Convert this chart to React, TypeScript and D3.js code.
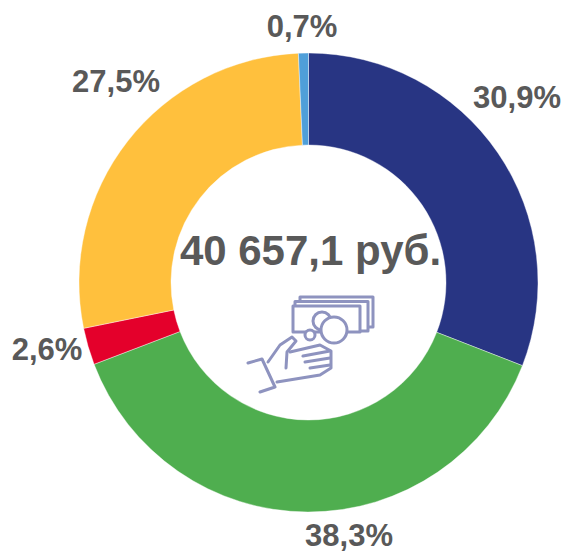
import React from "react";
import * as d3 from "d3";

const shares = [30.9, 38.3, 2.6, 27.5, 0.7];
const labels = ["30,9%", "38,3%", "2,6%", "27,5%", "0,7%"];
const colors = ["#283583", "#4FAE4F", "#E4002B", "#FFC03D", "#4F9FD9"];
const totalLabel = "40 657,1 руб.";

const W = 566, H = 553;
const CX = 308.5, CY = 282.5, R = 229.5, RI = 137.5;
// label anchor points, by slice
const labelPos: [number, number][] = [[517, 97], [349, 535.5], [47, 349], [116, 81], [302, 26]];

const ICON = "#8E93BF";

export default function App() {
  const pie = d3.pie<number>().value(d => d).sort(null);
  const arc = d3.arc<d3.PieArcDatum<number>>().innerRadius(RI).outerRadius(R);
  const arcs = pie(shares);
  const font = "'Liberation Sans', Arial, sans-serif";
  return (
    <svg width={W} height={H} viewBox={`0 0 ${W} ${H}`}
      style={{ position: "absolute", left: 0, top: 0, background: "#fff" }}>
      <g transform={`translate(${CX},${CY})`}>
        {arcs.map((a, i) => (
          <path key={i} d={arc(a) ?? ""} fill={colors[i]} stroke="#fff" strokeWidth={0.4} />
        ))}
      </g>
      {labels.map((t, i) => (
        <text key={i} x={labelPos[i][0]} y={labelPos[i][1]} textAnchor="middle" dominantBaseline="central"
          fontFamily={font} fontWeight="700" fontSize={31} fill="#595959">{t}</text>
      ))}
      <text x={310.5} y={250} textAnchor="middle" dominantBaseline="central"
        fontFamily={font} fontWeight="700" fontSize={42} fill="#595959">{totalLabel}</text>
      <g fill="none" stroke={ICON} strokeWidth={3} strokeLinejoin="round" strokeLinecap="round">
        <path d="M300 301V297H373V327H368" strokeLinecap="butt" />
        <path d="M295 306V301.5H368V331H360" strokeLinecap="butt" />
        <rect x={293} y={306} width={67} height={26} fill="#fff" strokeLinecap="butt" />
        <circle cx={322} cy={321} r={9} fill="#fff" />
        <circle cx={334} cy={330} r={13} fill="#fff" />
        <circle cx={310} cy={335} r={5} fill="#fff" />
        <path d="M248 363L262 359L275 387L260 392" />
        <path d="M268 362L280 345L292 337L296 341L287 352L286 368" />
        <path d="M290 352L320 345L331 351L331 368L320 375L277 382" />
        <path d="M303 356L330 351" />
        <path d="M305 362L330 358" />
        <path d="M310 368L330 365" />
      </g>
    </svg>
  );
}
